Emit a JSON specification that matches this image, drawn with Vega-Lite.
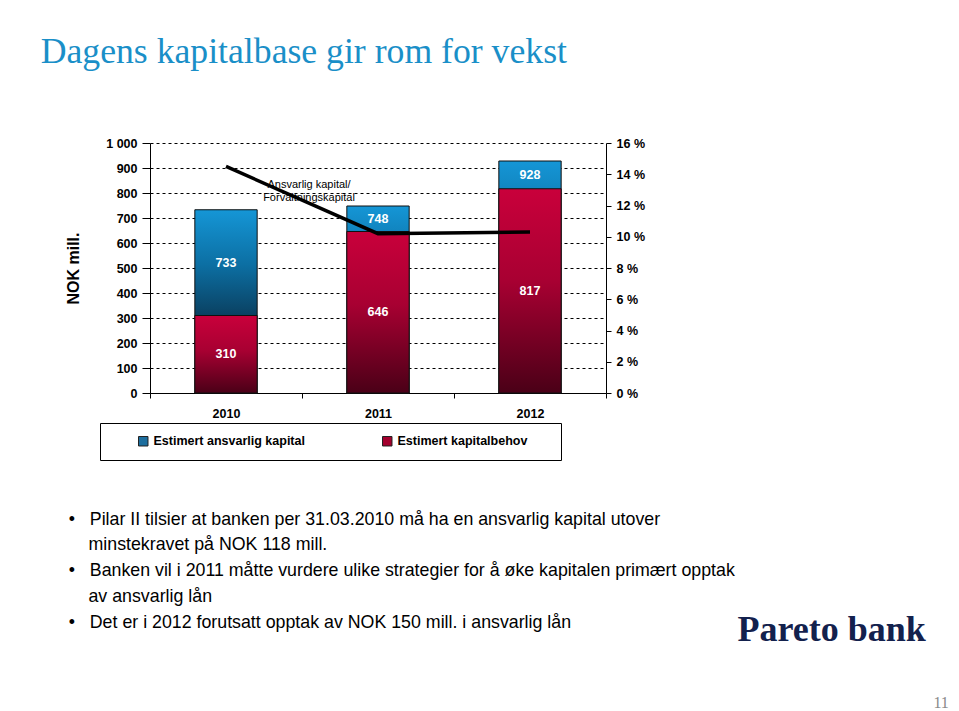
{
  "$schema": "https://vega.github.io/schema/vega-lite/v6.json",
  "background": "white",
  "padding": {"left": 40, "top": 34, "right": 5, "bottom": 5},
  "config": {
    "font": "Liberation Sans",
    "view": {"stroke": null},
    "axis": {"labelFont": "Liberation Sans", "labelFontWeight": "bold", "labelFontSize": 12.5, "labelColor": "#000", "domainColor": "#000", "tickColor": "#000", "titleColor": "#000", "titleFont": "Liberation Sans", "labelOverlap": false}
  },
  "title": {"text": "11", "orient": "bottom", "anchor": "end", "font": "Liberation Serif", "fontSize": 16, "fontWeight": "normal", "color": "#8a8a8a", "dx": 23, "offset": 47},
  "vconcat": [
    {
      "title": {"text": "Pareto bank", "orient": "bottom", "anchor": "end", "font": "Liberation Serif", "fontSize": 36, "fontWeight": "bold", "color": "#13214d", "dx": 191, "offset": -18},
      "vconcat": [
        {
          "title": {"text": "Dagens kapitalbase gir rom for vekst", "anchor": "start", "font": "Liberation Serif", "fontSize": 35.7, "fontWeight": "normal", "color": "#1a8fc8", "offset": 66, "dx": -25},
          "vconcat": [
            {
              "width": 456,
              "height": 250,
              "title": {
                "text": [
                  "•\u00a0\u00a0\u00a0Pilar II tilsier at banken per 31.03.2010 må ha en ansvarlig kapital utover",
                  "\u200b\u00a0\u00a0\u00a0\u00a0minstekravet på NOK 118 mill.",
                  "•\u00a0\u00a0\u00a0Banken vil i 2011 måtte vurdere ulike strategier for å øke kapitalen primært opptak",
                  "\u200b\u00a0\u00a0\u00a0\u00a0av ansvarlig lån",
                  "•\u00a0\u00a0\u00a0Det er i 2012 forutsatt opptak av NOK 150 mill. i ansvarlig lån"
                ],
                "orient": "bottom", "anchor": "start", "font": "Liberation Sans", "fontSize": 17.8, "fontWeight": "normal", "color": "#000", "lineHeight": 25.75, "dx": 3, "offset": 91
              },
              "data": {"values": [
                {"year": "2010", "kapital": 733, "behov": 310, "ratio": 14.5},
                {"year": "2011", "kapital": 748, "behov": 646, "ratio": 10.2},
                {"year": "2012", "kapital": 928, "behov": 817, "ratio": 10.3}
              ]},
              "encoding": {
                "x": {"field": "year", "type": "ordinal", "scale": {"paddingInner": 0, "paddingOuter": 0},
                      "axis": {"title": null, "labelAngle": 0, "tickBand": "extent", "tickSize": 5, "labelPadding": 9, "grid": false}}
              },
              "layer": [
                {
                  "layer": [
                    {
                      "mark": {"type": "bar", "width": {"band": 0.41}, "stroke": "#111", "strokeWidth": 1,
                        "fill": {"gradient": "linear", "x1": 0, "y1": 0, "x2": 0, "y2": 1,
                          "stops": [{"offset": 0, "color": "#1596d6"}, {"offset": 0.3, "color": "#0c6fa3"}, {"offset": 0.6, "color": "#0a3d5c"}, {"offset": 1, "color": "#061f30"}]}},
                      "encoding": {"y": {"field": "kapital", "type": "quantitative", "title": "NOK mill.",
                        "scale": {"domain": [0, 1000]},
                        "axis": {"values": [0, 100, 200, 300, 400, 500, 600, 700, 800, 900, 1000], "tickCount": 20, "labelExpr": "replace(format(datum.value, ','), ',', ' ')",
                          "grid": true, "gridDash": [3, 3], "gridColor": "#000", "gridWidth": 1, "tickSize": 8, "labelPadding": 5,
                          "titleFontSize": 16, "titleFontWeight": "bold", "titlePadding": 24}}}
                    },
                    {
                      "mark": {"type": "bar", "width": {"band": 0.41}, "stroke": "#111", "strokeWidth": 1,
                        "fill": {"gradient": "linear", "x1": 0, "y1": 0, "x2": 0, "y2": 1,
                          "stops": [{"offset": 0, "color": "#c9003b"}, {"offset": 0.45, "color": "#a80032"}, {"offset": 1, "color": "#4a0017"}]}},
                      "encoding": {"y": {"field": "behov", "type": "quantitative", "title": "NOK mill."}}
                    },
                    {
                      "transform": [{"calculate": "(datum.kapital + datum.behov) / 2", "as": "kapital_mid"}],
                      "mark": {"type": "text", "color": "white", "fontWeight": "bold", "fontSize": 12.5, "baseline": "middle"},
                      "encoding": {"y": {"field": "kapital_mid", "type": "quantitative", "title": "NOK mill."}, "text": {"field": "kapital", "type": "quantitative"}}
                    },
                    {
                      "transform": [{"calculate": "datum.behov / 2", "as": "behov_mid"}],
                      "mark": {"type": "text", "color": "white", "fontWeight": "bold", "fontSize": 12.5, "baseline": "middle"},
                      "encoding": {"y": {"field": "behov_mid", "type": "quantitative", "title": "NOK mill."}, "text": {"field": "behov", "type": "quantitative"}}
                    },
                    {
                      "transform": [{"fold": ["kapital", "behov"], "as": ["serie", "verdi"]}],
                      "mark": {"type": "square", "opacity": 0},
                      "encoding": {
                        "y": {"field": "verdi", "type": "quantitative", "title": "NOK mill."},
                        "color": {"field": "serie", "type": "nominal",
                          "scale": {"domain": ["kapital", "behov"], "range": ["#1d6e9e", "#a3002d"]},
                          "legend": {"orient": "none", "legendX": -50, "legendY": 280, "direction": "horizontal", "columns": 2,
                            "title": " ", "titleOrient": "left", "titlePadding": 25, "titleFontSize": 12,
                            "strokeColor": "#000", "padding": 12, "columnPadding": 75, "labelLimit": 400,
                            "symbolType": "square", "symbolSize": 90, "symbolStrokeColor": "#222", "symbolStrokeWidth": 1, "symbolOpacity": 1,
                            "labelFont": "Liberation Sans", "labelFontWeight": "bold", "labelFontSize": 12.5, "labelColor": "#000", "labelOffset": 4,
                            "labelExpr": "datum.label == 'kapital' ? 'Estimert ansvarlig kapital' : 'Estimert kapitalbehov\u00a0\u00a0\u00a0\u00a0\u00a0\u00a0\u200b'"}}
                      }
                    }
                  ]
                },
                {
                  "layer": [
                    {
                      "mark": {"type": "line", "color": "#000", "strokeWidth": 3.5},
                      "encoding": {"y": {"field": "ratio", "type": "quantitative", "title": null,
                        "scale": {"domain": [0, 16]},
                        "axis": {"orient": "right", "values": [0, 2, 4, 6, 8, 10, 12, 14, 16], "tickCount": 20, "labelExpr": "datum.value + ' %'", "grid": false, "tickSize": 5, "labelPadding": 5}}}
                    },
                    {
                      "data": {"values": [{"label": "Ansvarlig kapital/\nForvaltningskapital"}]},
                      "mark": {"type": "text", "lineBreak": "\n", "fontSize": 11, "lineHeight": 13, "align": "center", "baseline": "middle", "dx": 7, "color": "#000"},
                      "encoding": {
                        "x": {"datum": "2011", "type": "ordinal", "bandPosition": 0},
                        "y": {"datum": 13.33, "type": "quantitative", "title": null,
                          "axis": {"orient": "right", "values": [0, 2, 4, 6, 8, 10, 12, 14, 16], "tickCount": 20, "labelExpr": "datum.value + ' %'", "grid": false, "tickSize": 5, "labelPadding": 5}},
                        "text": {"field": "label"}
                      }
                    }
                  ]
                }
              ],
              "resolve": {"scale": {"y": "independent"}}
            }
          ]
        }
      ]
    }
  ]
}
